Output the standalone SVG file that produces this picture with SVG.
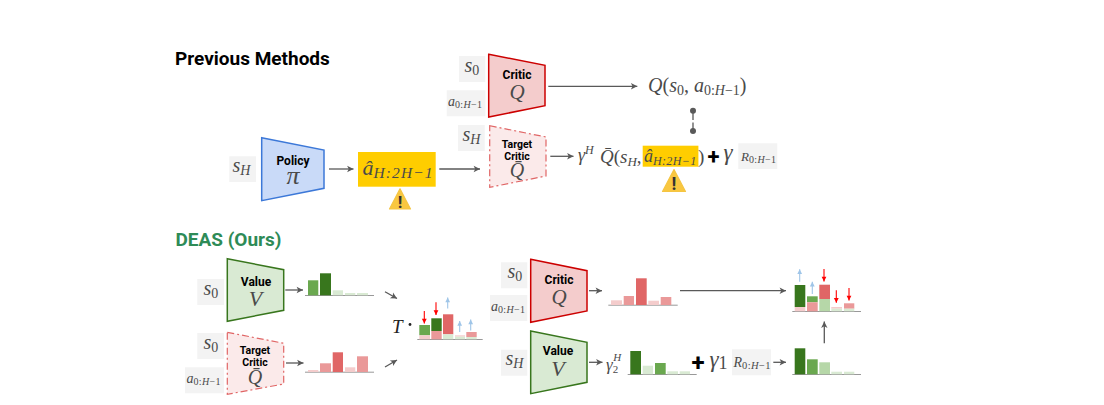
<svg xmlns="http://www.w3.org/2000/svg" width="1104" height="405" viewBox="0 0 1104 405">
<style>
.t{font-family:Roboto,"Liberation Sans",sans-serif;font-weight:700;fill:#000;text-anchor:middle}
.h{font-size:19px;text-anchor:start}
.l{font-size:12px}
.s{font-size:10.5px}
.m{font-family:"Liberation Serif",serif;font-style:italic;fill:#4a4a4a}
.u{font-style:normal}
.ss{letter-spacing:.35px}
.box{fill:#f3f3f3}
.a{stroke:#595959;stroke-width:1.3;fill:none;marker-end:url(#ah)}
.ar{stroke:#ff0000;stroke-width:1.1;fill:none;marker-end:url(#ahr)}
.ab{stroke:#9fc5e8;stroke-width:1.1;fill:none;marker-end:url(#ahb)}
.base{stroke:#999;stroke-width:1}
.g1{fill:#38761d}.g2{fill:#6aa84f}.g3{fill:#b6d7a8}.g4{fill:#d9ead3}
.r1{fill:#e06666}.r2{fill:#ea9999}.r3{fill:#f4cccc}
.yl{fill:#ffcd00}
.wt{fill:#f9c740;stroke:#f5c542;stroke-width:1.2;stroke-linejoin:round}
.wx{font-family:Roboto,sans-serif;font-weight:700;fill:#333;text-anchor:middle}
</style>
<defs>
<marker id="ah" viewBox="0 0 10 10" refX="9" refY="5" markerWidth="8" markerHeight="8" markerUnits="userSpaceOnUse" orient="auto"><path d="M1 1L9 5L1 9L3 5Z" fill="#595959"/></marker>
<marker id="ahr" viewBox="0 0 10 10" refX="9" refY="5" markerWidth="6" markerHeight="6" markerUnits="userSpaceOnUse" orient="auto"><path d="M1 1L9 5L1 9Z" fill="#ff0000"/></marker>
<marker id="ahb" viewBox="0 0 10 10" refX="9" refY="5" markerWidth="6" markerHeight="6" markerUnits="userSpaceOnUse" orient="auto"><path d="M1 1L9 5L1 9Z" fill="#9fc5e8"/></marker>
</defs>
<rect width="1104" height="405" fill="#fff"/>

<text class="t h" x="175" y="65">Previous Methods</text>
<text class="t h" x="175.5" y="246" style="fill:#2e8b57">DEAS (Ours)</text>

<g id="connectors">
<path class="a" d="M329 169H353.5"/>
<path class="a" d="M439.3 169H480"/>
<path class="a" d="M548.3 86.3H637.3"/>
<path class="a" d="M550.3 156.3H573.5"/>
<path d="M693 110.7V120M693 122.5V131" stroke="#595959" stroke-width="1.3" fill="none"/>
<circle cx="693" cy="110.7" r="3" fill="#595959"/>
<circle cx="693" cy="131" r="3" fill="#595959"/>
<path class="a" d="M285.3 290H303"/>
<path class="a" d="M286 363H303.5"/>
<path class="a" d="M385 291.7L397 298.5"/>
<path class="a" d="M385 367L397 360"/>
<path class="a" d="M589 290.7H602"/>
<path class="a" d="M680 290.7H786"/>
<path class="a" d="M824.3 343.3V321.5"/>
<path class="a" d="M589 362.3H602.5"/>
<path class="a" d="M773.3 362.3H786"/>
</g>

<g id="policy">
<rect class="box" x="229.3" y="156.3" width="26.7" height="25.7"/>
<text class="m" x="232.5" y="172" font-size="20">s<tspan font-size="14" dy="3">H</tspan></text>
<path d="M261.7 137.7L324 150V188.3L261.7 200.7Z" fill="#c9daf8" stroke="#3c78d8" stroke-width="1.5"/>
<text class="t l" x="293" y="165">Policy</text>
<text class="m" x="293" y="184" font-size="26" text-anchor="middle">π</text>
</g>
<g id="action">
<rect class="yl" x="358" y="152" width="77.7" height="34.7"/>
<text class="m" x="362.5" y="175" font-size="22">â<tspan font-size="15.5" dy="2.5" letter-spacing="1.1">H:2H−1</tspan></text>
<path class="wt" d="M400 188.8L410.5 209H389.5Z"/>
<text class="wx" x="400" y="207.5" font-size="17">!</text>
</g>
<g id="critic-top">
<rect class="box" x="459" y="56" width="26.3" height="26"/>
<text class="m" x="464.5" y="72" font-size="20">s<tspan font-size="14" dy="3" class="u">0</tspan></text>
<rect class="box" x="446.7" y="90.3" width="38.7" height="26"/>
<text class="m" x="448" y="105.5" font-size="14">a<tspan font-size="10" dy="2" class="ss"><tspan class="u">0:</tspan>H<tspan class="u">−1</tspan></tspan></text>
<path d="M488.7 54.3L545 65.3V105.7L488.7 117Z" fill="#f4cccc" stroke="#cc0000" stroke-width="1.5"/>
<text class="t l" x="517" y="79">Critic</text>
<text class="m" x="517" y="99" font-size="21" text-anchor="middle">Q</text>
</g>
<g id="target-critic-top">
<rect class="box" x="458" y="125" width="26.7" height="26"/>
<text class="m" x="462.5" y="140.5" font-size="20">s<tspan font-size="14" dy="3">H</tspan></text>
<path d="M489.7 125.7L546 137V176L489.7 187.3Z" fill="#fbeaea" stroke="#e06666" stroke-width="1.2" stroke-dasharray="7 3 2 3"/>
<text class="t s" x="517" y="147.5">Target</text>
<text class="t s" x="517" y="159.5">Critic</text>
<text class="m" x="517" y="177" font-size="20" text-anchor="middle">Q̄</text>
</g>
<g id="q-output">
<text class="m" x="648" y="92" font-size="20">Q<tspan class="u">(</tspan>s<tspan font-size="14" dy="3" class="u">0</tspan><tspan dy="-3" class="u">,</tspan> a<tspan font-size="14" dy="3"><tspan class="u">0:</tspan>H<tspan class="u">−1</tspan></tspan><tspan dy="-3" class="u">)</tspan></text>
</g>
<g id="target-output">
<text class="m" x="578" y="161" font-size="18">γ<tspan font-size="12" dy="-7">H</tspan></text>
<rect class="yl" x="642.7" y="145.7" width="55.7" height="21"/>
<text class="m" x="600" y="163" font-size="19">Q̄<tspan class="u">(</tspan>s<tspan font-size="13" dy="3">H</tspan><tspan dy="-3" class="u">,</tspan></text>
<text class="m" x="644" y="162" font-size="18">â<tspan font-size="12" dy="2.5" class="ss">H:2H−1</tspan></text>
<text class="m u" x="698" y="163" font-size="19">)</text>
<path class="wt" d="M674 169.6L685.5 191.5H662.5Z"/>
<text class="wx" x="674" y="190" font-size="18">!</text>
<text class="t" x="713.5" y="164" font-size="22">+</text>
<text class="m" x="723.5" y="160" font-size="23">γ</text>
<rect class="box" x="738.3" y="143.3" width="39" height="25.7"/>
<text class="m" x="741" y="161" font-size="13">R<tspan font-size="10" dy="2" class="ss"><tspan class="u">0:</tspan>H<tspan class="u">−1</tspan></tspan></text>
</g>

<g id="value-left">
<rect class="box" x="197.3" y="279" width="26.7" height="26"/>
<text class="m" x="203.5" y="294.5" font-size="20">s<tspan font-size="14" dy="3" class="u">0</tspan></text>
<path d="M227.3 258.7L283.7 269.7V310.3L227.3 321.3Z" fill="#d9ead3" stroke="#38761d" stroke-width="1.5"/>
<text class="t l" x="256" y="286">Value</text>
<text class="m" x="255.5" y="306" font-size="22" text-anchor="middle">V</text>
</g>
<g id="target-critic-left">
<rect class="box" x="197.3" y="333" width="26.7" height="26"/>
<text class="m" x="203.5" y="348.5" font-size="20">s<tspan font-size="14" dy="3" class="u">0</tspan></text>
<rect class="box" x="185" y="367.3" width="39" height="26"/>
<text class="m" x="186.5" y="383" font-size="14">a<tspan font-size="10" dy="2" class="ss"><tspan class="u">0:</tspan>H<tspan class="u">−1</tspan></tspan></text>
<path d="M227.3 332.3L283.7 343.3V384L227.3 394.3Z" fill="#fbeaea" stroke="#e06666" stroke-width="1.2" stroke-dasharray="7 3 2 3"/>
<text class="t s" x="255" y="353.5">Target</text>
<text class="t s" x="255" y="365.5">Critic</text>
<text class="m" x="255" y="384" font-size="20" text-anchor="middle">Q̄</text>
</g>
<g id="hist-value-left">
<path class="base" d="M305 295.5H374"/>
<rect class="g2" x="308" y="280.3" width="10.3" height="15"/>
<rect class="g1" x="320" y="273.3" width="11" height="22"/>
<rect class="g4" x="332.7" y="290.3" width="10.3" height="5"/>
<rect class="g4" x="345" y="293" width="10.3" height="2.3"/>
<rect class="g4" x="357" y="293" width="11" height="2.3"/>
</g>
<g id="hist-target-left">
<path class="base" d="M305 372.2H374"/>
<rect class="r3" x="308" y="370" width="10.3" height="2"/>
<rect class="r2" x="320" y="363.3" width="11" height="8.7"/>
<rect class="r1" x="332.7" y="352.3" width="10.3" height="19.7"/>
<rect class="r3" x="345" y="367.3" width="10.3" height="4.7"/>
<rect class="r2" x="357" y="356.3" width="11" height="15.7"/>
</g>
<g id="tau-hist">
<text class="m" x="392" y="332.5" font-size="19" style="fill:#222">T</text>
<circle cx="410" cy="324.5" r="1.4" fill="#222"/>
<path class="base" d="M417.3 339.5H482.7"/>
<rect class="g2" x="419.3" y="325" width="10.7" height="10.3"/><rect class="r3" x="419.3" y="335.3" width="10.7" height="4"/>
<rect class="g1" x="431.3" y="318.3" width="10.4" height="12.7"/><rect class="r2" x="431.3" y="331" width="10.4" height="8.3"/>
<rect class="r1" x="443" y="314.3" width="10.3" height="20"/><rect class="g4" x="443" y="334.3" width="10.3" height="5"/>
<rect class="r3" x="455" y="335.3" width="10" height="1.4"/><rect class="g4" x="455" y="336.7" width="10" height="2.6"/>
<rect class="r2" x="466.3" y="332" width="10.4" height="5"/><rect class="g4" x="466.3" y="337" width="10.4" height="2.3"/>
<path class="ar" d="M424.3 311V323.5"/>
<path class="ar" d="M436 302.3V315"/>
<path class="ab" d="M447.7 308.5V297.5"/>
<path class="ab" d="M459.7 332V321"/>
<path class="ab" d="M470.7 330.5V319.5"/>
</g>

<g id="critic-bottom">
<rect class="box" x="501" y="262.3" width="26.3" height="26"/>
<text class="m" x="507.5" y="278" font-size="20">s<tspan font-size="14" dy="3" class="u">0</tspan></text>
<rect class="box" x="490" y="295" width="37.3" height="26"/>
<text class="m" x="491" y="310.5" font-size="14">a<tspan font-size="10" dy="2" class="ss"><tspan class="u">0:</tspan>H<tspan class="u">−1</tspan></tspan></text>
<path d="M530.7 259.3L587 270.7V311L530.7 322.3Z" fill="#f4cccc" stroke="#cc0000" stroke-width="1.5"/>
<text class="t l" x="559" y="284">Critic</text>
<text class="m" x="559" y="304" font-size="21" text-anchor="middle">Q</text>
</g>
<g id="value-bottom">
<rect class="box" x="501" y="349.7" width="26.3" height="26"/>
<text class="m" x="505.5" y="365" font-size="20">s<tspan font-size="14" dy="3">H</tspan></text>
<path d="M530.7 331L587 342.3V382.3L530.7 393.7Z" fill="#d9ead3" stroke="#38761d" stroke-width="1.5"/>
<text class="t l" x="558" y="355">Value</text>
<text class="m" x="558" y="376" font-size="22" text-anchor="middle">V</text>
</g>
<g id="hist-critic">
<path class="base" d="M608.3 305.2H677.7"/>
<rect class="r3" x="611" y="300.3" width="11" height="4.7"/>
<rect class="r2" x="623.7" y="296" width="10.3" height="9"/>
<rect class="r1" x="636" y="278.3" width="10.7" height="26.7"/>
<rect class="r3" x="648.3" y="300.7" width="10.7" height="4.3"/>
<rect class="r2" x="660.7" y="297" width="10.6" height="8"/>
</g>
<g id="gamma-hist">
<text class="m" x="606" y="370" font-size="17">γ<tspan font-size="11" dy="3" class="u">2</tspan><tspan font-size="11" dx="-5" dy="-12">H</tspan></text>
<path class="base" d="M627.7 374.5H696.7"/>
<rect class="g1" x="630.3" y="351" width="10.7" height="23.3"/>
<rect class="g4" x="642.7" y="365.7" width="10.3" height="8.6"/>
<rect class="g2" x="655" y="363" width="10.7" height="11.3"/>
<rect class="g4" x="667.3" y="371.3" width="10.7" height="3"/>
<rect class="g4" x="679.7" y="371.3" width="10.3" height="3"/>
</g>
<g id="reward">
<text class="t" x="698" y="370.5" font-size="24">+</text>
<text class="m" x="709.5" y="367" font-size="23">γ<tspan font-size="18" dy="1.5" class="u">1</tspan></text>
<rect class="box" x="732" y="349.3" width="39" height="26"/>
<text class="m" x="733.5" y="367" font-size="14">R<tspan font-size="10.5" dy="2" class="ss"><tspan class="u">0:</tspan>H<tspan class="u">−1</tspan></tspan></text>
</g>
<g id="hist-target-value">
<path class="base" d="M792.3 374.5H861"/>
<rect class="g1" x="794.7" y="348.3" width="10.6" height="26"/>
<rect class="g2" x="807" y="359.3" width="10.7" height="15"/>
<rect class="g3" x="819.3" y="362.3" width="10.7" height="12"/>
<rect class="g4" x="831.3" y="371.7" width="10.7" height="2.6"/>
<rect class="g4" x="844" y="371.7" width="10.3" height="2.6"/>
</g>
<g id="hist-result">
<path class="base" d="M792.3 311.5H861"/>
<rect class="g1" x="794.7" y="285" width="10.6" height="22"/><rect class="r3" x="794.7" y="307" width="10.6" height="4.3"/>
<rect class="g2" x="807" y="296.3" width="10.7" height="6"/><rect class="r2" x="807" y="302.3" width="10.7" height="9"/>
<rect class="r1" x="819.3" y="284.7" width="10.7" height="14.3"/><rect class="g3" x="819.3" y="299" width="10.7" height="12.3"/>
<rect class="r3" x="831.3" y="307" width="10.7" height="1.7"/><rect class="g4" x="831.3" y="308.7" width="10.7" height="2.6"/>
<rect class="r2" x="844" y="303.3" width="10.3" height="5.4"/><rect class="g4" x="844" y="308.7" width="10.3" height="2.6"/>
<path class="ab" d="M799.7 281.7V269.3"/>
<path class="ab" d="M812.3 294V281.7"/>
<path class="ar" d="M824 269V281.5"/>
<path class="ar" d="M836.3 290.3V302.7"/>
<path class="ar" d="M849 288V300.5"/>
</g>
</svg>
